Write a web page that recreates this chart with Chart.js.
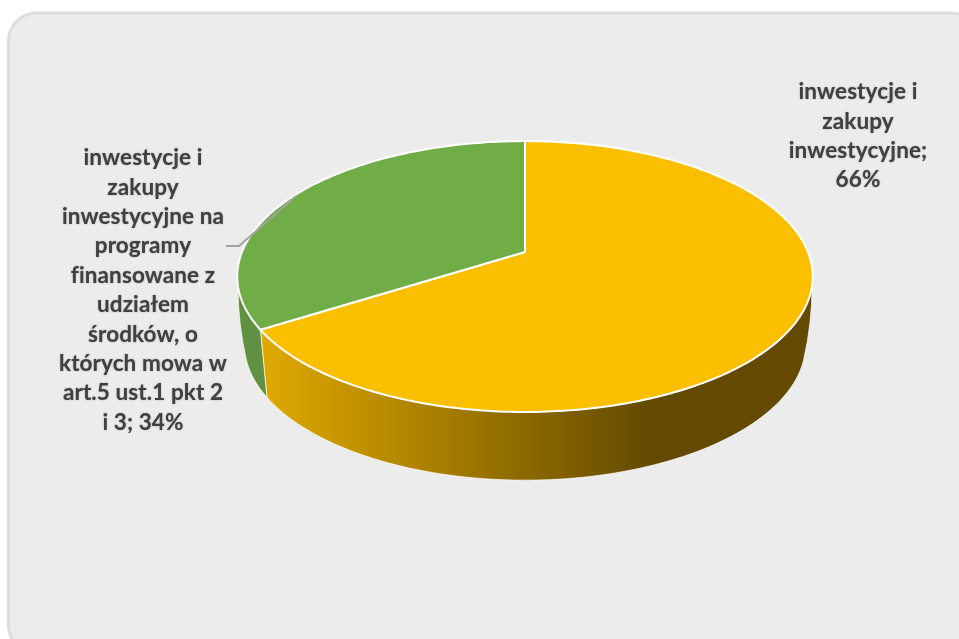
<!DOCTYPE html>
<html lang="pl">
<head>
<meta charset="utf-8">
<title>Wydatki inwestycyjne</title>
<script src="https://cdn.jsdelivr.net/npm/chart.js@4"></script>
<style>
  html, body { margin: 0; padding: 0; background: #fff; overflow: hidden; }
  canvas { display: block; }
</style>
</head>
<body>
<canvas id="pie" width="959" height="639"></canvas>
<script>
'use strict';

var categories = ['inwestycje i zakupy inwestycyjne', 'inwestycje i zakupy inwestycyjne na programy finansowane z udziałem środków, o których mowa w art.5 ust.1 pkt 2 i 3'];
var values = [66, 34];
var topColors = ['#fcbf00', '#70ad47'];

// label text wrapped the same way as in the picture, percent is added from values
var labelLines = [
  ['inwestycje i', 'zakupy', 'inwestycyjne;'],
  ['inwestycje i', 'zakupy', 'inwestycyjne na', 'programy', 'finansowane z', 'udziałem', 'środków, o', 'których mowa w', 'art.5 ust.1 pkt 2']
];
var labelTail = ['', 'i 3; '];
var labelPos = [{ x: 858, y: 92 }, { x: 143, y: 158 }];

// perspective of the disc: top face and bottom rim
var topFace = { cx: 525, cy: 252, a: 283, b: 131, k: 0.181 };
var bottomFace = { cx: 525, cy: 319, a: 276, b: 132, k: 0.181 };

// where the wall silhouette leaves each rim, radians from the horizontal
var edgeTop = 0.25;
var edgeBottom = 0.3;

function project(face, angle) {
  var X = Math.cos(angle);
  var Y = -Math.sin(angle);
  var w = 1 + face.k * Y;
  return { x: face.cx + face.a * X / w, y: face.cy - face.b * Y / w };
}

function arcPoints(face, start, end) {
  var pts = [];
  var n = Math.ceil(Math.abs(end - start) * 60);
  for (var i = 0; i <= n; i++) {
    pts.push(project(face, start + (end - start) * i / n));
  }
  return pts;
}

function tracePoints(ctx, pts) {
  pts.forEach(function(p) {
    ctx.lineTo(p.x, p.y);
  });
}

// curved side of the wall, from one rim to the other
function traceEdge(ctx, from, to) {
  var sideX = Math.abs(from.x - topFace.cx) > Math.abs(to.x - topFace.cx) ? from.x : to.x;
  ctx.quadraticCurveTo(sideX, (from.y + to.y) / 2, to.x, to.y);
}

// only the front of the disc has a wall, slices are clamped to it
function wallPath(ctx, start, end) {
  var right = start < edgeBottom;
  var left = end > Math.PI - edgeBottom;
  var topStart = right ? edgeTop : start;
  var topEnd = left ? Math.PI - edgeTop : end;
  var botStart = right ? edgeBottom : start;
  var botEnd = left ? Math.PI - edgeBottom : end;

  ctx.beginPath();
  var first = project(bottomFace, botStart);
  ctx.moveTo(first.x, first.y);
  if (right) traceEdge(ctx, first, project(topFace, topStart));
  tracePoints(ctx, arcPoints(topFace, topStart, topEnd));
  if (left) {
    traceEdge(ctx, project(topFace, topEnd), project(bottomFace, botEnd));
  }
  tracePoints(ctx, arcPoints(bottomFace, botEnd, botStart));
  ctx.closePath();
}

var panel = {
  id: 'panel',
  beforeDraw: function(chart) {
    var ctx = chart.ctx;
    ctx.save();
    ctx.beginPath();
    ctx.roundRect(8.5, 13, 970, 640, 28);
    ctx.fillStyle = '#ececec';
    ctx.fill();
    ctx.lineWidth = 3;
    ctx.strokeStyle = '#dddddd';
    ctx.stroke();
    ctx.restore();
  }
};

var disc = {
  id: 'disc',
  beforeDatasetDraw: function(chart, args) {
    var ctx = chart.ctx;
    var arcs = args.meta.data;
    ctx.save();
    ctx.lineJoin = 'round';

    // side wall first, top face goes over it
    var wall = ctx.createLinearGradient(262, 0, 650, 0);
    wall.addColorStop(0, '#e0a900');
    wall.addColorStop(1, '#634a00');
    var wallColors = [wall, '#5f9140'];
    arcs.forEach(function(arc, i) {
      var a = arc.getProps(['startAngle', 'endAngle'], true);
      wallPath(ctx, a.startAngle, a.endAngle);
      ctx.fillStyle = wallColors[i];
      ctx.fill();
      ctx.lineWidth = 1;
      ctx.strokeStyle = 'rgba(255,255,255,0.7)';
      ctx.stroke();
    });

    arcs.forEach(function(arc, i) {
      var a = arc.getProps(['startAngle', 'endAngle'], true);
      ctx.beginPath();
      ctx.moveTo(topFace.cx, topFace.cy);
      tracePoints(ctx, arcPoints(topFace, a.startAngle, a.endAngle));
      ctx.closePath();
      ctx.fillStyle = topColors[i];
      ctx.fill();
      ctx.lineWidth = 2;
      ctx.strokeStyle = '#ffffff';
      ctx.stroke();
    });
    ctx.restore();
    return false;
  },
  afterDatasetsDraw: function(chart) {
    var ctx = chart.ctx;
    ctx.save();

    // leader line of the left label
    ctx.beginPath();
    ctx.moveTo(226, 246);
    ctx.lineTo(239, 246);
    ctx.lineTo(296, 196);
    ctx.lineWidth = 2;
    ctx.strokeStyle = '#a3a3a3';
    ctx.stroke();

    ctx.font = 'bold 22.5px Lato';
    ctx.letterSpacing = '0.1px';
    ctx.fillStyle = '#404040';
    ctx.shadowColor = 'rgba(64,64,64,0.5)';
    ctx.shadowBlur = 1.5;
    ctx.textAlign = 'center';
    ctx.textBaseline = 'middle';
    labelLines.forEach(function(lines, i) {
      var all = lines.concat(labelTail[i] + values[i] + '%');
      all.forEach(function(line, j) {
        ctx.fillText(line, labelPos[i].x, labelPos[i].y + j * 29.4);
      });
    });
    ctx.restore();
  }
};

new Chart(document.getElementById('pie'), {
  type: 'pie',
  data: {
    labels: categories,
    datasets: [{
      data: values,
      backgroundColor: topColors,
      borderWidth: 0
    }]
  },
  options: {
    responsive: false,
    animation: false,
    events: [],
    plugins: {
      legend: { display: false },
      tooltip: { enabled: false }
    }
  },
  plugins: [panel, disc]
});
</script>
</body>
</html>
